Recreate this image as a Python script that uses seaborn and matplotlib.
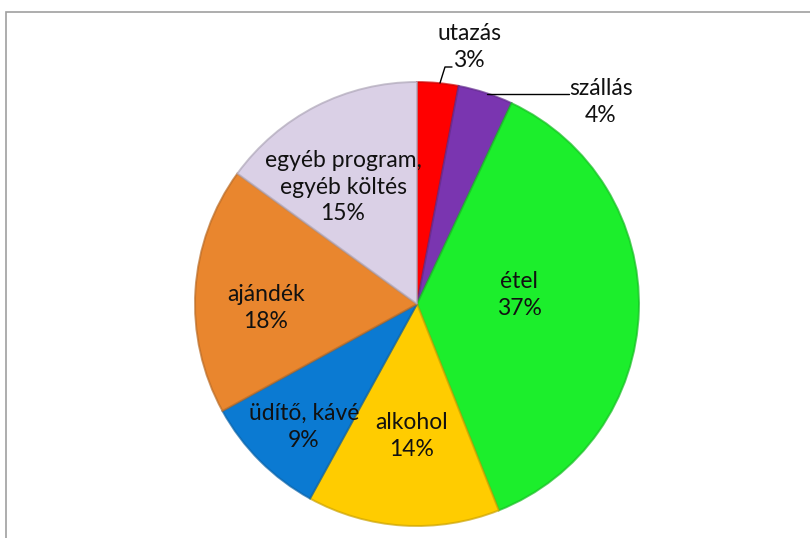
import numpy as np
import seaborn as sns
import matplotlib.pyplot as plt
from matplotlib.patches import Rectangle
from matplotlib.colors import to_rgb

sns.set_theme(style="white")
plt.rcParams['font.family'] = ['Lato', 'DejaVu Sans']

kategoriak = ['utazás', 'szállás', 'étel', 'alkohol', 'üdítő, kávé', 'ajándék',
              'egyéb program,\negyéb költés']
ertekek = [3, 4, 37, 14, 9, 18, 15]
szinek = ['#FF0000', '#7A35B0', '#1CEE2C', '#FFCC00', '#0B7AD2', '#E9862E', '#DAD0E6']

fig = plt.figure(figsize=(8.1, 5.38), dpi=100)
# keret
fig.patches.append(Rectangle((6 / 810, -0.1), 1.2, 1 - 12 / 538 + 0.1,
                             transform=fig.transFigure, fill=False,
                             edgecolor='#A0A0A0', linewidth=1.2))

cx, cy, r = 417 / 810, 1 - 304 / 538, 222
ax = fig.add_axes([cx - r / 810, cy - r / 538, 2 * r / 810, 2 * r / 538])

wedges, _ = ax.pie(ertekek, colors=szinek, startangle=90, counterclock=False,
                   radius=1, normalize=True,
                   wedgeprops=dict(linewidth=1.4))
# enyhe domborítás: sötétebb perem
for w, c in zip(wedges, szinek):
    sotet = tuple(0.8 * np.array(to_rgb(c)))
    w.set_edgecolor(sotet + (0.7,))
ax.set_aspect('auto')
ax.set_xlim(-1, 1)
ax.set_ylim(-1, 1)
ax.axis('off')


def px(x, y):
    return ((x - 417) / r, (304 - y) / r)


szoveg = dict(ha='center', va='center', fontsize=16.5, color='#111111',
              linespacing=1.32, clip_on=False)

belso = {
    'étel': (519, 295),
    'alkohol': (412, 436),
    'üdítő, kávé': (304, 427),
    'ajándék': (266, 308),
    'egyéb program,\negyéb költés': (343, 187),
}
for nev, v in zip(kategoriak, ertekek):
    if nev in belso:
        x, y = px(*belso[nev])
        ax.text(x, y, f'{nev}\n{v}%', **szoveg)

# külső címkék
x, y = px(469, 47)
ax.text(x, y, f'{kategoriak[0]}\n{ertekek[0]}%', **szoveg)
x, y = px(601, 102)
ax.text(x, y, f'{kategoriak[1]}\n{ertekek[1]}%', **szoveg)

# vezetővonalak
p = [px(452, 67), px(445, 67), px(440, 83)]
ax.plot([q[0] for q in p], [q[1] for q in p], color='black', lw=1, clip_on=False)
p = [px(569, 94), px(487, 94)]
ax.plot([q[0] for q in p], [q[1] for q in p], color='black', lw=1, clip_on=False)

fig.savefig('out.png', dpi=100)
